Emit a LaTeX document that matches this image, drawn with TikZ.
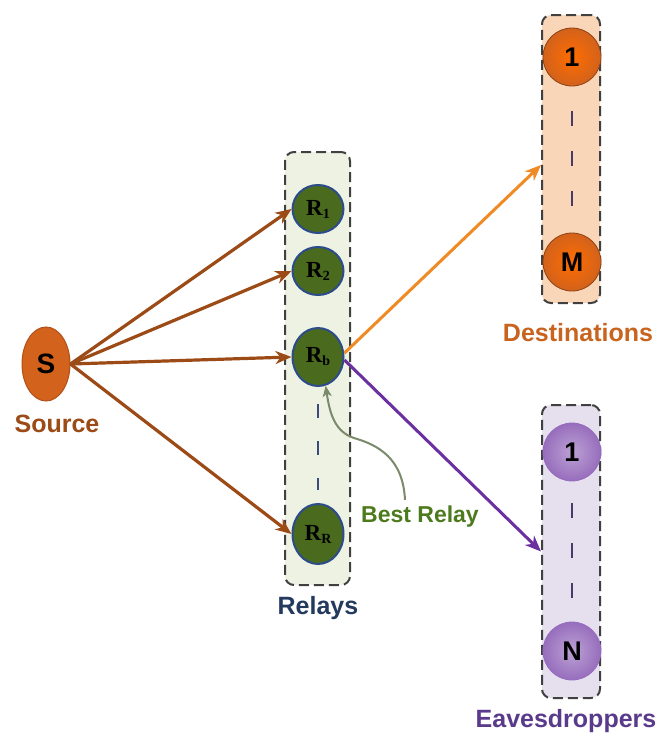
\documentclass[tikz,border=0pt]{standalone}
\usepackage{fontspec}
\newfontfamily\lsans{Liberation Sans}
\newfontfamily\lserif{Liberation Serif}
\usetikzlibrary{shapes.geometric,arrows.meta}
\definecolor{srcfill}{HTML}{D2621C}
\definecolor{srcedge}{HTML}{B0521A}
\definecolor{brownc}{HTML}{9C4A16}
\definecolor{relayfill}{HTML}{4A6A1E}
\definecolor{relayedge}{HTML}{2C4C8C}
\definecolor{relaybox}{HTML}{EEF2E2}
\definecolor{destbox}{HTML}{FAD6B8}
\definecolor{eavbox}{HTML}{E6E0EE}
\definecolor{orangec}{HTML}{F08A24}
\definecolor{destlab}{HTML}{C8641E}
\definecolor{purplec}{HTML}{6A2FA0}
\definecolor{eavlab}{HTML}{5A3A8A}
\definecolor{relaylab}{HTML}{233A5E}
\definecolor{bestlab}{HTML}{4E7A1E}
\definecolor{bestarrow}{HTML}{7A8A6A}
\definecolor{dashc}{HTML}{3A4A7A}
\definecolor{dashp}{HTML}{4A3A6A}
\tikzset{
  grpbox/.style={draw=black!75, dashed, dash pattern=on 10pt off 5pt, line width=2pt, rounded corners=9pt, inner sep=0pt},
  relay/.style={ellipse, draw=relayedge, line width=2pt, fill=relayfill, inner sep=0pt, minimum width=51pt, minimum height=48pt, font=\lserif\bfseries\fontsize{23}{23}\selectfont},
  destnode/.style={circle, draw=srcedge!80!black, line width=0.8pt, inner color=orange!85!red, outer color=srcfill, inner sep=0pt, minimum size=58pt, font=\lsans\bfseries\fontsize{27}{27}\selectfont},
  eavnode/.style={circle, draw=purplec!70, line width=0.8pt, inner color=purplec!45, outer color=purplec!70, inner sep=0pt, minimum size=58pt, font=\lsans\bfseries\fontsize{27}{27}\selectfont},
  lab/.style={font=\lsans\bfseries\fontsize{25}{25}\selectfont},
  srcarrow/.style={draw=brownc, line width=3.2pt, -{Stealth[length=16pt,width=13pt,inset=5pt]}},
  outarrow/.style={line width=3pt, -{Stealth[length=16pt,width=13pt,inset=5pt]}},
  vdots/.style={line width=2.4pt},
}
\newcommand{\Rsub}[1]{R\raisebox{-3pt}{\fontsize{14}{14}\selectfont #1}}
\begin{document}
\begin{tikzpicture}[x=1pt,y=-1pt]
\useasboundingbox[fill=white] (0,0) rectangle (660,737);
% boxes
\node[grpbox, fill=relaybox, minimum width=65pt, minimum height=433pt] (rbox) at (317.5,368.5) {};
\node[grpbox, fill=destbox, minimum width=58pt, minimum height=288pt] (dbox) at (571,159) {};
\node[grpbox, fill=eavbox, minimum width=58pt, minimum height=293pt] (ebox) at (571,551.5) {};
% source
\node[ellipse, draw=srcedge, line width=1pt, fill=srcfill, minimum width=48pt, minimum height=74pt, inner sep=0pt, font=\lsans\bfseries\fontsize{28}{28}\selectfont] (S) at (46,364) {S};
\node[lab, text=brownc] (srclab) at (57,424) {Source};
% relays
\node[relay] (R1) at (318,209) {\Rsub{1}};
\node[relay] (R2) at (318,271) {\Rsub{2}};
\node[relay, minimum height=58pt] (Rb) at (318,357) {\Rsub{b}};
\node[relay, minimum height=60pt] (RR) at (318,534) {\Rsub{R}};
\draw[vdots, draw=dashc, dash pattern=on 14pt off 23pt] ([yshift=-17pt]Rb.south) -- ([yshift=13pt]RR.north);
\node[lab, text=relaylab] (rlab) at (318,608) {Relays};
% destinations
\node[destnode] (D1) at (572,57) {1};
\node[destnode] (DM) at (572,262) {M};
\draw[vdots, draw=dashp, dash pattern=on 15pt off 25pt] ([yshift=-25pt]D1.south) -- ([yshift=24pt]DM.north);
\node[lab, text=destlab] (dlab) at (578,333) {Destinations};
% eavesdroppers
\node[eavnode] (E1) at (572,452) {1};
\node[eavnode] (EN) at (572,651) {N};
\draw[vdots, draw=dashp, dash pattern=on 15pt off 25pt] ([yshift=-22pt]E1.south) -- ([yshift=20pt]EN.north);
\node[lab, text=eavlab] (elab) at (566,721) {Eavesdroppers};
% source arrows
\draw[srcarrow] (S.east) -- (R1.west);
\draw[srcarrow] (S.east) -- (R2.west);
\draw[srcarrow] (S.east) -- (Rb.west);
\draw[srcarrow] (S.east) -- (RR.west);
% relay outputs
\draw[outarrow, draw=orangec] ([yshift=4pt]Rb.east) -- ([yshift=-6pt]dbox.west);
\draw[outarrow, draw=purplec] ([yshift=-3pt]Rb.east) -- (ebox.west);
% best relay
\node[font=\lsans\bfseries\fontsize{23}{23}\selectfont, text=bestlab] (best) at (420,517) {Best Relay};
\coordinate (bstart) at (405,500);
\draw[bestarrow, line width=2pt, -{Stealth[length=11pt,width=9pt,inset=3pt]}] (bstart) .. controls (403,458) and (378,445) .. (354,438) .. controls (336,432) and (330,416) .. (Rb.-75);
\end{tikzpicture}
\end{document}
